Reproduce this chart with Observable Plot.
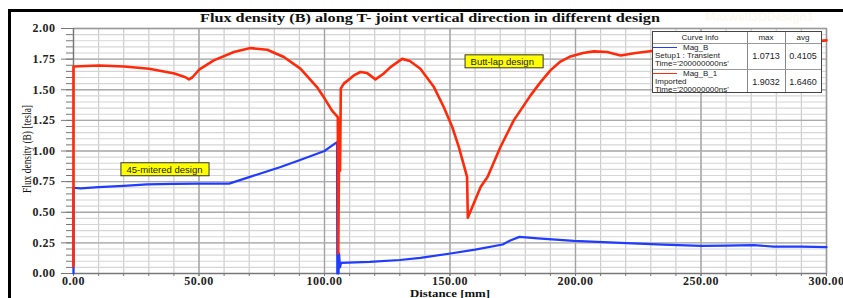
<!DOCTYPE html>
<html><head><meta charset="utf-8">
<script src="https://cdn.jsdelivr.net/npm/d3@7"></script>
<script src="https://cdn.jsdelivr.net/npm/@observablehq/plot@0.6"></script>
<style>
body{margin:0;background:#fff;}
#wrap{position:relative;width:843px;height:298px;overflow:hidden;}
#frame{position:absolute;left:8px;top:9px;width:840px;height:300px;border-left:3px solid #000;border-top:3px solid #000;pointer-events:none;}
#legend{position:absolute;left:652px;top:31px;width:168px;height:60px;background:#fff;border:1.5px solid #444;font-family:"Liberation Sans",Arial,sans-serif;font-size:8px;color:#222;}
#legend div{position:absolute;white-space:nowrap;line-height:8px;}
#legend .vl{top:0;bottom:0;width:0;border-left:1px solid #888;}
#legend .hl{left:0;right:0;height:0;border-top:1px solid #999;}
#legend .c{text-align:center;}
#legend .sw{height:0;width:24px;}
svg g[aria-label$="tick label"] text{letter-spacing:0.5px;}
</style>
</head><body>
<div id="wrap"><div id="chart"></div><div id="legend"></div><div id="frame"></div></div>
<script>
const title = "Flux density (B) along T- joint vertical direction in different design";
const xLabel = "Distance [mm]";
const yLabel = "Flux density (B) [tesla]";
const xTicks = [0, 50, 100, 150, 200, 250, 300];
const yTicks = [0, 0.25, 0.5, 0.75, 1.0, 1.25, 1.5, 1.75, 2.0];
const xMinor = d3.range(0, 301, 10);
const yMinor = d3.range(0, 2.001, 0.05);

// Mag_B (blue, 45-mitered design)
const blueX = [0, 0, 2.8, 10, 20, 29.4, 40, 50, 62, 70, 82.5, 90, 100, 102, 105, 105.1, 105.6, 105.8, 106.2, 106.6, 118, 130, 138.2, 150.2, 160, 171, 174, 177.7, 185, 199.3, 218, 235, 250, 260, 271, 279, 290, 300];
const blueY = [0, 0.70, 0.695, 0.705, 0.715, 0.728, 0.731, 0.733, 0.734, 0.787, 0.87, 0.925, 1.0, 1.03, 1.073, 0.0, 0.0, 0.163, 0.05, 0.087, 0.095, 0.11, 0.128, 0.163, 0.195, 0.237, 0.27, 0.299, 0.287, 0.266, 0.25, 0.235, 0.225, 0.228, 0.231, 0.22, 0.219, 0.215];

// Mag_B_1 (red, butt-lap design)
const redX = [0, 0, 10.3, 20.2, 30.2, 40.2, 44.6, 46, 47.3, 50.2, 55.9, 63.9, 70.5, 77.2, 83.8, 90.4, 97, 100, 103, 105.3, 105.5, 105.9, 106.2, 106.5, 107.7, 111.7, 114.3, 117, 120.3, 123.5, 126.3, 130.9, 134, 138.2, 143.6, 147.5, 150.9, 153.5, 156.8, 157.1, 162.2, 165, 170.1, 175.4, 182.1, 186, 190, 194, 198, 203, 207.3, 212.6, 218, 224, 230.5, 240, 250, 260, 270, 280, 290, 300];
const redY = [0.06, 1.69, 1.698, 1.69, 1.672, 1.632, 1.602, 1.585, 1.6, 1.666, 1.74, 1.808, 1.84, 1.827, 1.767, 1.672, 1.522, 1.43, 1.33, 1.277, 0.163, 1.25, 0.84, 1.51, 1.55, 1.617, 1.645, 1.636, 1.585, 1.631, 1.685, 1.752, 1.735, 1.672, 1.522, 1.359, 1.196, 1.033, 0.788, 0.455, 0.706, 0.79, 1.033, 1.25, 1.454, 1.56, 1.658, 1.73, 1.772, 1.80, 1.813, 1.808, 1.78, 1.80, 1.816, 1.83, 1.84, 1.85, 1.86, 1.87, 1.885, 1.903];

// Curve info legend
const legendHeader = ["Curve Info", "max", "avg"];
const seriesNames = ["Mag_B", "Mag_B_1"];
const seriesSetup = ["Setup1 : Transient", "Imported"];
const seriesTime = ["Time='200000000ns'", "Time='200000000ns'"];
const seriesMax = ["1.0713", "1.9032"];
const seriesAvg = ["0.4105", "1.6460"];
const seriesColors = ["#1f3cff", "#ff2a0a"];

// Annotation boxes
const annoLabels = ["Butt-lap design", "45-mitered design"];
const annoX1 = [156.2, 19.1];
const annoX2 = [187.3, 54.2];
const annoY1 = [1.675, 0.794];
const annoY2 = [1.781, 0.900];

const blue = blueX.map((x, i) => ({x, y: blueY[i]}));
const red = redX.map((x, i) => ({x, y: redY[i]}));
const anno = annoLabels.map((label, i) => ({label, x1: annoX1[i], x2: annoX2[i], y1: annoY1[i], y2: annoY2[i]}));

const fmt = d3.format(".2f");
const plot = Plot.plot({
  width: 843, height: 298,
  marginLeft: 73, marginRight: 17, marginTop: 28, marginBottom: 25,
  x: {domain: [0, 300]},
  y: {domain: [0, 2]},
  style: {fontFamily: "'Liberation Serif', 'Times New Roman', serif", background: "transparent", color: "#222"},
  marks: [
    Plot.ruleX(xMinor, {stroke: "#cdcdcd", strokeWidth: 1.2}),
    Plot.ruleY(yMinor, {stroke: "#d6d6d6", strokeWidth: 1.1}),
    Plot.ruleX(xTicks, {stroke: "#a2a2a2", strokeWidth: 1.3}),
    Plot.ruleY(yTicks, {stroke: "#ababab", strokeWidth: 1.3}),
    Plot.frame({stroke: "#999", strokeWidth: 1.3}),
    Plot.ruleX([0], {stroke: "#777"}),
    Plot.ruleY([0], {stroke: "#777"}),
    Plot.axisY(yMinor, {tickSize: 7, tickFormat: () => "", label: null, stroke: "#777"}),
    Plot.axisY(yTicks, {tickSize: 12, tickPadding: 6, tickFormat: fmt, fontSize: 12, fontWeight: "bold", fill: "#222", stroke: "#777", label: null}),
    Plot.axisX(xMinor, {tickSize: 3, tickFormat: () => "", label: null, stroke: "#777"}),
    Plot.axisX(xTicks, {tickSize: 3, tickPadding: 0, tickFormat: fmt, fontSize: 12, fontWeight: "bold", fill: "#222", stroke: "#777", label: null}),
    Plot.line(blue, {x: "x", y: "y", stroke: seriesColors[0], strokeWidth: 2.2}),
    Plot.line(red, {x: "x", y: "y", stroke: seriesColors[1], strokeWidth: 2.6}),
    Plot.rect(anno, {x1: "x1", x2: "x2", y1: "y1", y2: "y2", fill: "#ffff00", stroke: "#333", strokeWidth: 1}),
    Plot.text(anno, {x: "x1", y: d => (d.y1 + d.y2) / 2, text: "label", textAnchor: "start", dx: 5, fontFamily: "'Liberation Sans', Arial, sans-serif", fontSize: 9.5, fill: "#222"}),
    Plot.text(["Maxwell3DDesign1"], {text: d => d, frameAnchor: "top-right", textAnchor: "end", lineAnchor: "bottom", dy: -8, dx: -13, fontFamily: "'Liberation Sans', Arial, sans-serif", fontWeight: "bold", fontSize: 12, fill: "#fbf8ee"})
  ]
});
document.getElementById("chart").appendChild(plot);

const svg = d3.select(plot);
const serif = "'Liberation Serif', 'Times New Roman', serif";
// title
svg.append("text")
  .attr("x", 430).attr("y", 22)
  .attr("text-anchor", "middle")
  .attr("font-family", serif).attr("font-weight", "bold").attr("font-size", 13)
  .attr("fill", "#111")
  .attr("textLength", 460).attr("lengthAdjust", "spacingAndGlyphs")
  .text(title);
// x label
svg.append("text")
  .attr("x", 450).attr("y", 296.5)
  .attr("text-anchor", "middle")
  .attr("font-family", serif).attr("font-weight", "bold").attr("font-size", 11)
  .attr("fill", "#111")
  .attr("textLength", 80).attr("lengthAdjust", "spacingAndGlyphs")
  .text(xLabel);
// rotated y label (condensed)
svg.append("text")
  .attr("transform", "translate(31,149) rotate(-90)")
  .attr("text-anchor", "middle")
  .attr("font-family", serif).attr("font-size", 12.5)
  .attr("fill", "#111")
  .attr("textLength", 88).attr("lengthAdjust", "spacingAndGlyphs")
  .text(yLabel);

// legend (Curve Info table)
const lg = document.getElementById("legend");
const colX = [0, 94, 132, 168];
const rowY = [0, 10.5, 36.5, 60];
let html = "";
html += `<div class="vl" style="left:${colX[1]}px"></div><div class="vl" style="left:${colX[2]}px"></div>`;
html += `<div class="hl" style="top:${rowY[1]}px"></div><div class="hl" style="top:${rowY[2]}px"></div>`;
legendHeader.forEach((h, j) => {
  html += `<div class="c" style="left:${colX[j]}px;width:${colX[j + 1] - colX[j]}px;top:1.5px">${h}</div>`;
});
seriesNames.forEach((n, i) => {
  const t = rowY[i + 1];
  html += `<div class="sw" style="left:0px;top:${t + 4.5}px;border-top:1.6px solid ${seriesColors[i]}"></div>`;
  html += `<div style="left:30px;top:${t + 1}px">${n}</div>`;
  html += `<div style="left:2px;top:${t + 9}px">${seriesSetup[i]}</div>`;
  html += `<div style="left:2px;top:${t + 17}px">${seriesTime[i]}</div>`;
  html += `<div class="c" style="left:${colX[1]}px;width:${colX[2] - colX[1]}px;top:${t + 9}px;font-size:9px">${seriesMax[i]}</div>`;
  html += `<div class="c" style="left:${colX[2]}px;width:${colX[3] - colX[2]}px;top:${t + 9}px;font-size:9px">${seriesAvg[i]}</div>`;
});
lg.innerHTML = html;
</script>
</body></html>
